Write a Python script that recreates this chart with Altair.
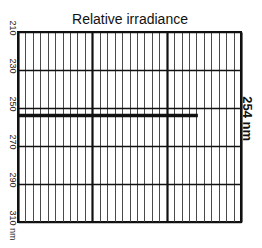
import altair as alt
import pandas as pd

# --- data ---
wavelength_ticks = [210, 230, 250, 270, 290, 310]   # nm, y axis
line_nm = [254]                                      # emission line
relative_irradiance = [24.2]                         # bar length (0-30 grid units)
bar_start = [0]
line_labels = ["254 nm"]
x_grid_values = list(range(0, 31))                   # 3 major x 10 minor divisions

df = pd.DataFrame({
    "nm": line_nm,
    "start": bar_start,
    "irr": relative_irradiance,
    "label": line_labels,
})

xscale = alt.Scale(domain=[0, 30], nice=False, zero=True)
yscale = alt.Scale(domain=[210, 310], reverse=True, nice=False, zero=False)

major_test = "datum.value % 10 === 0"

base = alt.Chart(df)

bar = base.mark_rule(color="#111111", strokeWidth=3.5, strokeCap="butt").encode(
    x=alt.X(
        "start:Q",
        scale=xscale,
        axis=alt.Axis(
            orient="top",
            values=x_grid_values,
            tickCount=40,
            grid=True,
            gridColor={"condition": {"test": major_test, "value": "#111111"}, "value": "#4a4a4a"},
            gridWidth={"condition": {"test": major_test, "value": 2.2}, "value": 1},
            labels=False,
            ticks=False,
            domain=False,
            title="Relative irradiance",
            titleFont="Liberation Sans",
            titleFontSize=14,
            titleFontWeight="normal",
            titleColor="#111111",
            titleBaseline="alphabetic",
            titlePadding=9,
        ),
    ),
    x2="irr:Q",
    y=alt.Y(
        "nm:Q",
        scale=yscale,
        axis=alt.Axis(
            values=wavelength_ticks,
            tickCount=10,
            grid=True,
            gridColor="#111111",
            gridWidth=1.5,
            ticks=False,
            domain=False,
            labelAngle=90,
            labelAlign="left",
            labelBaseline="middle",
            labelOffset=-12,
            labelPadding=6,
            labelFontSize=9,
            labelFont="Liberation Sans",
            labelColor="#222222",
            labelFlush=False,
            labelOverlap=False,
            labelBound=False,
            labelExpr="datum.value == 310 ? '310 nm' : datum.label",
            title=None,
        ),
    ),
)

text = base.mark_text(
    angle=90,
    fontSize=13,
    fontWeight="bold",
    font="Liberation Sans",
    color="#111111",
    align="center",
    baseline="middle",
    dx=3,
    dy=-6,
).encode(
    x=alt.X(datum=30, scale=xscale),
    y=alt.Y("nm:Q", scale=yscale),
    text="label:N",
)

chart = (
    alt.layer(bar, text)
    .properties(
        width=223,
        height=190,
        autosize="none",
        padding={"left": 10, "top": 24, "right": 13, "bottom": 18},
        background="white",
    )
    .configure_view(stroke="#111111", strokeWidth=2)
)

chart.save("out.html", embed_options={"renderer": "svg", "actions": False})
